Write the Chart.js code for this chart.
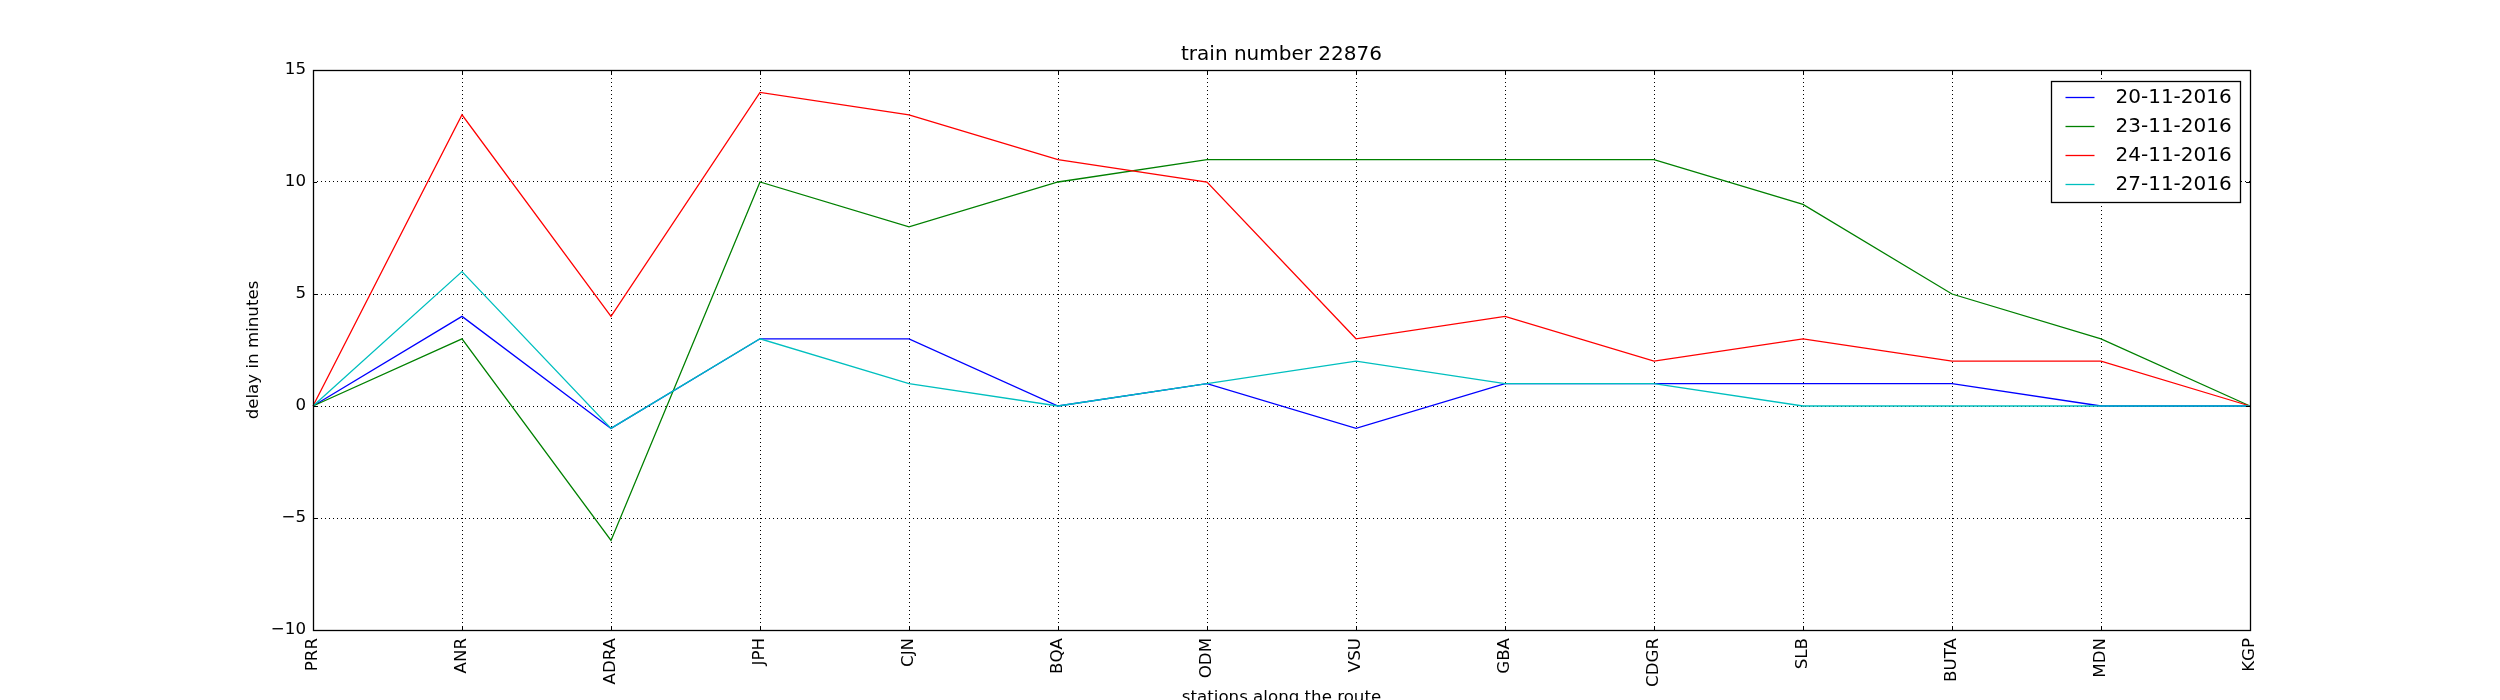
<!DOCTYPE html>
<html>
<head>
<meta charset="utf-8">
<script src="https://cdn.jsdelivr.net/npm/chart.js@4/dist/chart.umd.min.js"></script>
<style>
html,body{margin:0;padding:0;background:#fff;}
#wrap{width:2500px;height:700px;}
canvas{display:block;}
</style>
</head>
<body>
<div id="wrap"><canvas id="c" width="2500" height="700" style="width:2500px;height:700px"></canvas></div>
<script>
const stations = ['PRR','ANR','ADRA','JPH','CJN','BQA','ODM','VSU','GBA','CDGR','SLB','BUTA','MDN','KGP'];
const seriesNames = ['20-11-2016','23-11-2016','24-11-2016','27-11-2016'];
const delay20 = [0, 4, -1, 3, 3, 0, 1, -1, 1, 1, 1, 1, 0, 0];
const delay23 = [0, 3, -6, 10, 8, 10, 11, 11, 11, 11, 9, 5, 3, 0];
const delay24 = [0, 13, 4, 14, 13, 11, 10, 3, 4, 2, 3, 2, 2, 0];
const delay27 = [0, 6, -1, 3, 1, 0, 1, 2, 1, 1, 0, 0, 0, 0];
const yTickValues = [-10, -5, 0, 5, 10, 15];
const seriesColors = ['#0000ff', '#008000', '#ff0000', '#00bfbf'];

const FONT = "'DejaVu Sans', 'Liberation Sans', sans-serif";

const frameTicksLegend = {
  id: 'frameTicksLegend',
  afterDatasetsDraw(chart) {
    const ctx = chart.ctx;
    const a = chart.chartArea;
    const xs = chart.scales.x, ys = chart.scales.y;
    ctx.save();
    ctx.strokeStyle = '#000';
    ctx.lineWidth = 1;
    // inward tick marks
    ctx.beginPath();
    for (let i = 0; i < stations.length; i++) {
      const px = Math.round(xs.getPixelForValue(i)) + 0.5;
      ctx.moveTo(px, a.bottom); ctx.lineTo(px, a.bottom - 4);
      ctx.moveTo(px, a.top); ctx.lineTo(px, a.top + 4);
    }
    for (const v of yTickValues) {
      const py = Math.round(ys.getPixelForValue(v)) + 0.5;
      ctx.moveTo(a.left, py); ctx.lineTo(a.left + 4, py);
      ctx.moveTo(a.right, py); ctx.lineTo(a.right - 4, py);
    }
    ctx.stroke();
    // frame
    ctx.lineWidth = 1.3;
    ctx.strokeRect(Math.round(a.left) + 0.5, Math.round(a.top) + 0.5,
                   Math.round(a.right - a.left), Math.round(a.bottom - a.top));
    ctx.restore();
  },
  afterDraw(chart) {
    const ctx = chart.ctx;
    const a = chart.chartArea;
    const ds = chart.data.datasets;
    const boxW = 189, boxH = 121;
    const bx = Math.round(a.right - 10 - boxW) + 0.5;
    const by = Math.round(a.top + 11) + 0.5;
    ctx.save();
    ctx.fillStyle = '#fff';
    ctx.fillRect(bx, by, boxW, boxH);
    ctx.strokeStyle = '#000';
    ctx.lineWidth = 1.3;
    ctx.strokeRect(bx, by, boxW, boxH);
    ctx.font = "20px " + FONT;
    ctx.textBaseline = 'middle';
    ctx.textAlign = 'left';
    for (let i = 0; i < ds.length; i++) {
      const cy = by + 15 + i * 29;
      ctx.strokeStyle = ds[i].borderColor;
      ctx.lineWidth = 1.3;
      ctx.beginPath();
      ctx.moveTo(bx + 14, Math.round(cy) + 0.5);
      ctx.lineTo(bx + 43, Math.round(cy) + 0.5);
      ctx.stroke();
      ctx.fillStyle = '#000';
      ctx.fillText(ds[i].label, bx + 64, cy + 1);
    }
    ctx.restore();
  }
};

const seriesData = [delay20, delay23, delay24, delay27];
const datasets = seriesData.map((d, i) => ({
  label: seriesNames[i],
  data: d,
  borderColor: seriesColors[i],
  backgroundColor: seriesColors[i],
  borderWidth: 1.3,
  pointRadius: 0,
  pointHoverRadius: 0,
  tension: 0,
  fill: false,
  order: seriesData.length - i
}));

new Chart(document.getElementById('c'), {
  type: 'line',
  data: { labels: stations, datasets },
  options: {
    responsive: false,
    devicePixelRatio: 1,
    animation: false,
    events: [],
    layout: { padding: { left: 0, right: 250, top: 43, bottom: 0 } },
    plugins: {
      legend: { display: false },
      tooltip: { enabled: false },
      title: {
        display: true,
        text: 'train number 22876',
        fullSize: false,
        color: '#000',
        font: { family: FONT, size: 20, weight: 'normal', lineHeight: 1.2 },
        padding: { top: 0, bottom: 3 }
      }
    },
    scales: {
      x: {
        type: 'category',
        offset: false,
        afterFit(s) { s.height = 70; },
        grid: { display: true, color: '#000', lineWidth: 1, drawTicks: false, offset: false },
        border: { display: false, dash: [1, 3] },
        ticks: {
          autoSkip: false, maxRotation: 90, minRotation: 90, padding: 8,
          color: '#000', font: { family: FONT, size: 16.67 }
        },
        title: {
          display: true, text: 'stations along the route', color: '#000',
          font: { family: FONT, size: 16.67 }, padding: { top: 0, bottom: -8 }
        }
      },
      y: {
        min: -10, max: 15,
        afterFit(s) { s.width = 313; },
        afterBuildTicks(s) { s.ticks = yTickValues.map(v => ({ value: v })); },
        grid: { display: true, color: '#000', lineWidth: 1, drawTicks: false },
        border: { display: false, dash: [1, 3] },
        ticks: {
          padding: 7, color: '#000', font: { family: FONT, size: 16.67 },
          callback: (v) => String(v).replace('-', '\u2212')
        },
        title: {
          display: true, text: 'delay in minutes', color: '#000',
          font: { family: FONT, size: 16.67 }, padding: { top: 244, bottom: 0 }
        }
      }
    }
  },
  plugins: [frameTicksLegend]
});
</script>
</body>
</html>
